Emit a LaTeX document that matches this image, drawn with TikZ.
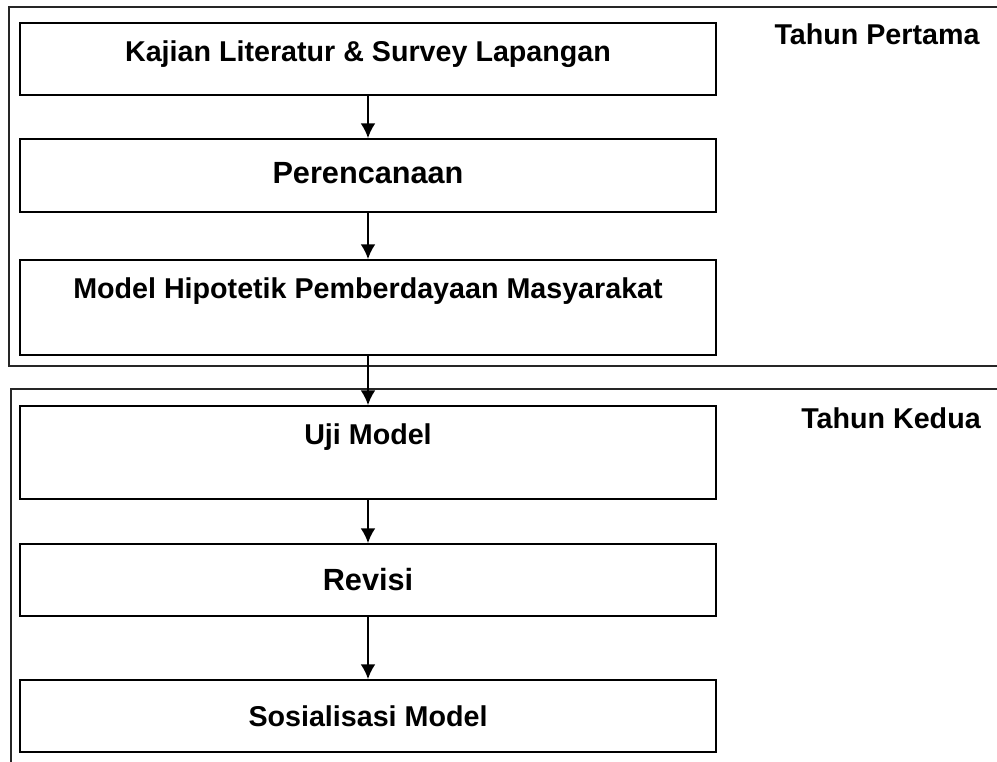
\documentclass[tikz,border=0pt]{standalone}
\usepackage{fontspec}
\setmainfont{Liberation Sans}
\usetikzlibrary{arrows.meta}
\tikzset{
  stage/.style={draw, line width=1.3pt, minimum width=522pt, inner sep=2pt,
    font=\bfseries\fontsize{21.5}{24}\selectfont, text height=15.4pt},
  bigstage/.style={stage, font=\bfseries\fontsize{23}{26}\selectfont, text height=16.5pt},
  year/.style={font=\bfseries\fontsize{21.5}{24}\selectfont, text height=15.4pt, text depth=0pt, inner sep=0pt},
  frame/.style={line width=1.2pt, draw=black!85}
}
\begin{document}
\begin{tikzpicture}[>={Latex[length=11pt, width=11pt]}, x=0.75pt, y=-0.75pt]
        \useasboundingbox (0,0) rectangle (997,762);
        % year frames, open on the right
        \draw[frame] (997,7) -- (9,7) -- (9,366) -- (997,366);
        \draw[frame] (997,389) -- (11,389) -- (11,762);
        
        \node[year] (y1) at (877,34) {Tahun Pertama};
        \node[year] (y2) at (891,418) {Tahun Kedua};
        
        \node[stage, minimum height=54pt, text depth=12pt] (kajian) at (368,59) {Kajian Literatur \& Survey Lapangan};
        \node[bigstage, minimum height=54.75pt, text depth=4.5pt] (rencana) at (368,175.5) {Perencanaan};
        \node[stage, minimum height=71.25pt, text depth=29pt] (model) at (368,307.5) {Model Hipotetik Pemberdayaan Masyarakat};
        \node[stage, minimum height=69.75pt, text depth=27pt] (uji) at (368,452.5) {Uji Model};
        \node[bigstage, minimum height=54pt, text depth=0pt] (revisi) at (368,580) {Revisi};
        \node[stage, minimum height=54pt, text depth=0pt] (sosial) at (368,716) {Sosialisasi Model};
        
        \draw[->, line width=1.5pt] (kajian) -- (rencana);
        \draw[->, line width=1.5pt] (rencana) -- (model);
        \draw[->, line width=1.5pt] (model) -- (uji);
        \draw[->, line width=1.5pt] (uji) -- (revisi);
        \draw[->, line width=1.5pt] (revisi) -- (sosial);
    \end{tikzpicture}
\end{document}
